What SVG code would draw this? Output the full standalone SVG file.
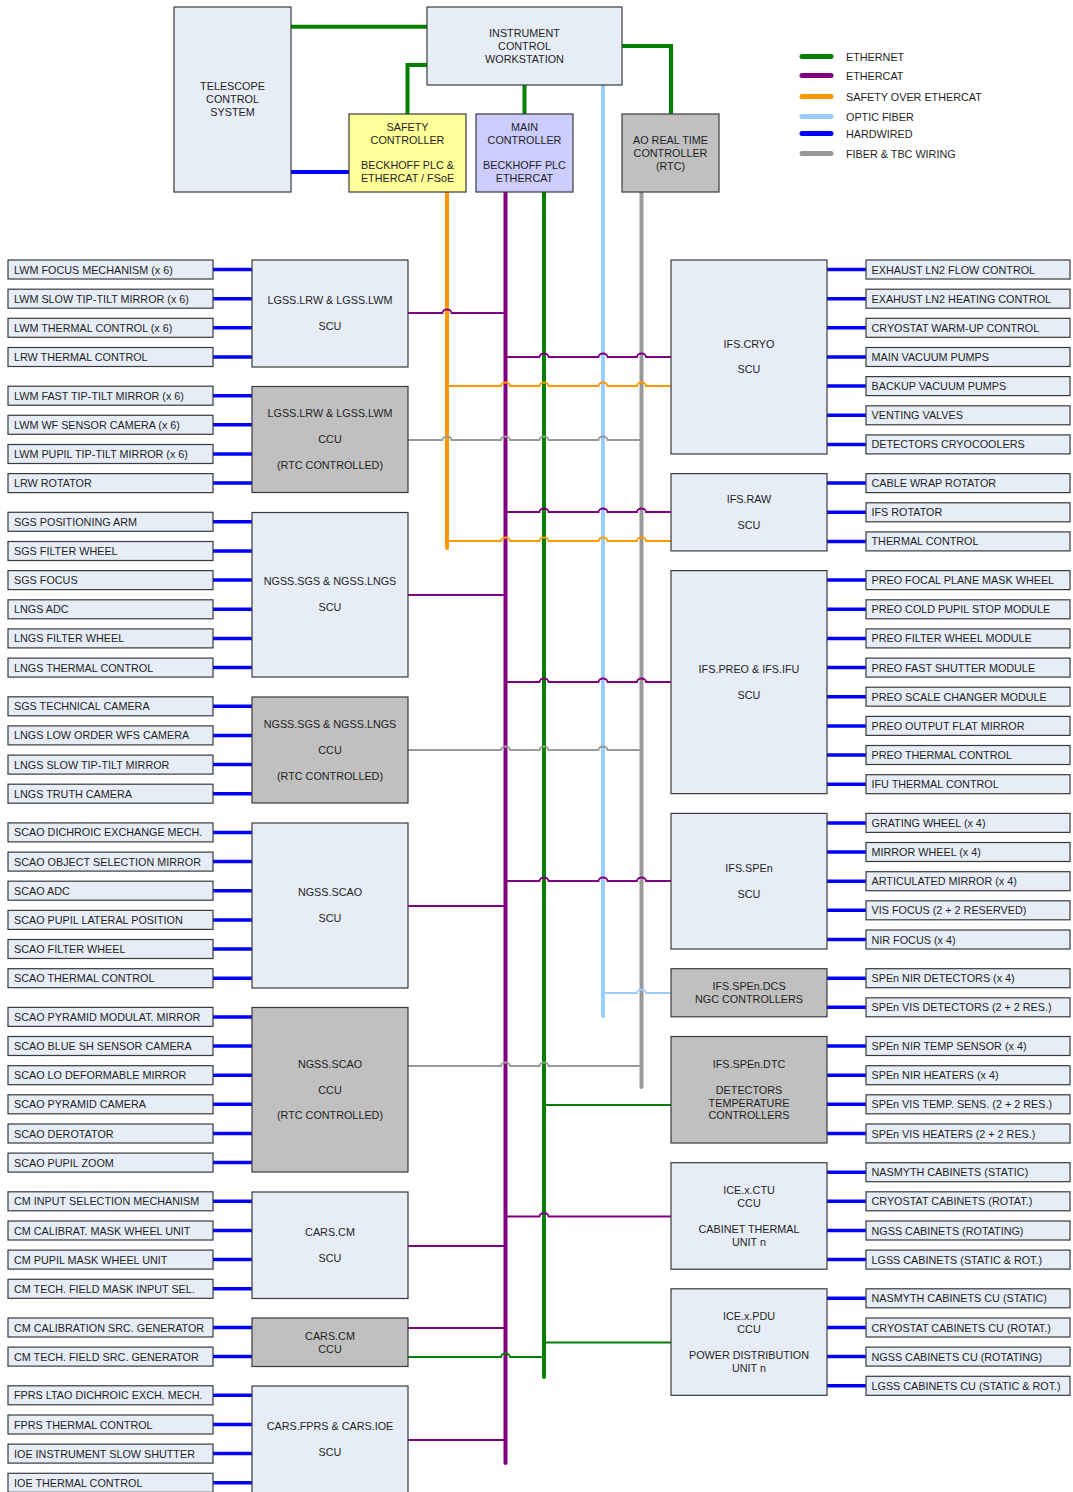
<svg xmlns="http://www.w3.org/2000/svg" width="1073" height="1492" viewBox="0 0 1073 1492">
<defs>
<style>
.box{fill:#E6EDF7;stroke:#3a3a3a;stroke-width:1.2}
.ccu{fill:#C0C0C0;stroke:#3a3a3a;stroke-width:1.2}
.saf{fill:#FFFF99;stroke:#3a3a3a;stroke-width:1.2}
.main{fill:#CCCCFF;stroke:#3a3a3a;stroke-width:1.2}
text{font-family:"Liberation Sans",Arial,sans-serif;font-size:10.8px;fill:#1e1e1e}
.c{text-anchor:middle}
.l{text-anchor:start}
.bus{fill:none;stroke-width:4;stroke-linecap:round}
.top{fill:none;stroke-width:4}
.cn{fill:none;stroke-width:1.8}
.hw{fill:none;stroke:#0000FF;stroke-width:3.5}
.leg{stroke-width:5;stroke-linecap:round}
.eth{stroke:#008000}.ecat{stroke:#800080}.safe{stroke:#FF9900}.opt{stroke:#99CCFF}.hwc{stroke:#0000FF}.tbc{stroke:#999999}
</style>
</defs>
<rect width="1073" height="1492" fill="#FFFFFF"/>

<g id="legend">
<line class="leg eth" x1="802" y1="56.5" x2="831" y2="56.5"/><text class="l" x="846" y="60.5">ETHERNET</text>
<line class="leg ecat" x1="802" y1="75.5" x2="831" y2="75.5"/><text class="l" x="846" y="79.5">ETHERCAT</text>
<line class="leg safe" x1="802" y1="96.5" x2="831" y2="96.5"/><text class="l" x="846" y="100.5">SAFETY OVER ETHERCAT</text>
<line class="leg opt" x1="802" y1="116.5" x2="831" y2="116.5"/><text class="l" x="846" y="120.5">OPTIC FIBER</text>
<line class="leg hwc" x1="802" y1="133.5" x2="831" y2="133.5"/><text class="l" x="846" y="137.5">HARDWIRED</text>
<line class="leg tbc" x1="802" y1="153.5" x2="831" y2="153.5"/><text class="l" x="846" y="157.5">FIBER &amp; TBC WIRING</text>
</g>

<g id="connectors">
<path class="top eth" d="M291 26.7 L427 26.7"/>
<path class="top eth" d="M427 65 L407.5 65 L407.5 114"/>
<path class="top eth" d="M524.5 85 L524.5 114"/>
<path class="top eth" d="M622 46 L671 46 L671 114"/>
<path class="top hwc" d="M291 172 L349 172"/>
<path class="bus safe" d="M447 192 L447 548"/>
<path class="bus ecat" d="M505.5 192 L505.5 1463"/>
<path class="bus eth" d="M544 192 L544 1377"/>
<path class="bus opt" d="M603 85 L603 1016"/>
<path class="bus tbc" d="M641.5 192 L641.5 1087"/>
<path class="cn ecat" d="M408 313 L442.5 313 A4.5 3.5 0 0 1 451.5 313 L505.5 313"/>
<path class="cn tbc" d="M408 440 L442.5 440 A4.5 3.5 0 0 1 451.5 440 L501 440 A4.5 3.5 0 0 1 510 440 L539.5 440 A4.5 3.5 0 0 1 548.5 440 L598.5 440 A4.5 3.5 0 0 1 607.5 440 L641.5 440"/>
<path class="cn ecat" d="M408 595 L505.5 595"/>
<path class="cn tbc" d="M408 750 L501 750 A4.5 3.5 0 0 1 510 750 L539.5 750 A4.5 3.5 0 0 1 548.5 750 L598.5 750 A4.5 3.5 0 0 1 607.5 750 L641.5 750"/>
<path class="cn ecat" d="M408 906 L505.5 906"/>
<path class="cn tbc" d="M408 1066 L501 1066 A4.5 3.5 0 0 1 510 1066 L539.5 1066 A4.5 3.5 0 0 1 548.5 1066 L641.5 1066"/>
<path class="cn ecat" d="M408 1246 L505.5 1246"/>
<path class="cn ecat" d="M408 1328 L505.5 1328"/>
<path class="cn eth" d="M408 1357 L501 1357 A4.5 3.5 0 0 1 510 1357 L544 1357"/>
<path class="cn ecat" d="M408 1440 L505.5 1440"/>
<path class="cn ecat" d="M505.5 357 L539.5 357 A4.5 3.5 0 0 1 548.5 357 L598.5 357 A4.5 3.5 0 0 1 607.5 357 L637 357 A4.5 3.5 0 0 1 646 357 L671 357"/>
<path class="cn safe" d="M447 386 L501 386 A4.5 3.5 0 0 1 510 386 L539.5 386 A4.5 3.5 0 0 1 548.5 386 L598.5 386 A4.5 3.5 0 0 1 607.5 386 L637 386 A4.5 3.5 0 0 1 646 386 L671 386"/>
<path class="cn ecat" d="M505.5 512 L539.5 512 A4.5 3.5 0 0 1 548.5 512 L598.5 512 A4.5 3.5 0 0 1 607.5 512 L637 512 A4.5 3.5 0 0 1 646 512 L671 512"/>
<path class="cn safe" d="M447 541 L501 541 A4.5 3.5 0 0 1 510 541 L539.5 541 A4.5 3.5 0 0 1 548.5 541 L598.5 541 A4.5 3.5 0 0 1 607.5 541 L637 541 A4.5 3.5 0 0 1 646 541 L671 541"/>
<path class="cn ecat" d="M505.5 682 L539.5 682 A4.5 3.5 0 0 1 548.5 682 L598.5 682 A4.5 3.5 0 0 1 607.5 682 L637 682 A4.5 3.5 0 0 1 646 682 L671 682"/>
<path class="cn ecat" d="M505.5 881 L539.5 881 A4.5 3.5 0 0 1 548.5 881 L598.5 881 A4.5 3.5 0 0 1 607.5 881 L637 881 A4.5 3.5 0 0 1 646 881 L671 881"/>
<path class="cn opt" d="M603 993 L637 993 A4.5 3.5 0 0 1 646 993 L671 993"/>
<path class="cn eth" d="M544 1105 L671 1105"/>
<path class="cn ecat" d="M505.5 1216.5 L539.5 1216.5 A4.5 3.5 0 0 1 548.5 1216.5 L671 1216.5"/>
<path class="cn eth" d="M544 1342.5 L671 1342.5"/>
<path class="hw" d="M213 269.5H252M213 298.7H252M213 327.8H252M213 357H252M213 395.7H252M213 424.8H252M213 454H252M213 483.1H252M213 521.8H252M213 551H252M213 580.1H252M213 609.3H252M213 638.4H252M213 667.6H252M213 706.3H252M213 735.4H252M213 764.6H252M213 793.7H252M213 832.4H252M213 861.6H252M213 890.7H252M213 919.9H252M213 949H252M213 978.2H252M213 1016.9H252M213 1046H252M213 1075.2H252M213 1104.3H252M213 1133.5H252M213 1162.6H252M213 1201.3H252M213 1230.5H252M213 1259.6H252M213 1288.8H252M213 1327.5H252M213 1356.6H252M213 1395.3H252M213 1424.5H252M213 1453.6H252M213 1482.8H252"/>
<path class="hw" d="M827 269.5H866M827 298.7H866M827 327.8H866M827 357H866M827 386.1H866M827 415.3H866M827 444.4H866M827 483.1H866M827 512.3H866M827 541.4H866M827 580.1H866M827 609.3H866M827 638.4H866M827 667.6H866M827 696.7H866M827 725.9H866M827 755H866M827 784.2H866M827 822.9H866M827 852H866M827 881.2H866M827 910.3H866M827 939.5H866M827 978.2H866M827 1007.3H866M827 1046H866M827 1075.2H866M827 1104.3H866M827 1133.5H866M827 1172.2H866M827 1201.3H866M827 1230.5H866M827 1259.6H866M827 1298.3H866M827 1327.5H866M827 1356.6H866M827 1385.8H866"/>
</g>

<g id="tcs"><rect class="box" x="174" y="7" width="117" height="185"/>
<text class="c" x="232.5" y="90">TELESCOPE</text><text class="c" x="232.5" y="103">CONTROL</text><text class="c" x="232.5" y="116">SYSTEM</text></g>
<g id="icw"><rect class="box" x="427" y="7" width="195" height="78"/>
<text class="c" x="524.5" y="37">INSTRUMENT</text><text class="c" x="524.5" y="50">CONTROL</text><text class="c" x="524.5" y="63">WORKSTATION</text></g>
<g id="safety"><rect class="saf" x="349" y="114" width="117" height="78"/>
<text class="c" x="407.5" y="131">SAFETY</text><text class="c" x="407.5" y="144">CONTROLLER</text><text class="c" x="407.5" y="169">BECKHOFF PLC &amp;</text><text class="c" x="407.5" y="182">ETHERCAT / FSoE</text></g>
<g id="mainctl"><rect class="main" x="476" y="114" width="97" height="78"/>
<text class="c" x="524.5" y="131">MAIN</text><text class="c" x="524.5" y="144">CONTROLLER</text><text class="c" x="524.5" y="169">BECKHOFF PLC</text><text class="c" x="524.5" y="182">ETHERCAT</text></g>
<g id="rtc"><rect class="ccu" x="622" y="114" width="97" height="78"/>
<text class="c" x="670.5" y="144">AO REAL TIME</text><text class="c" x="670.5" y="157">CONTROLLER</text><text class="c" x="670.5" y="169.5">(RTC)</text></g>

<g id="lgss-scu"><rect class="box" x="252" y="260" width="156" height="107"/><text class="c" x="330" y="304">LGSS.LRW &amp; LGSS.LWM</text><text class="c" x="330" y="330">SCU</text></g>
<g id="lgss-ccu"><rect class="ccu" x="252" y="386.5" width="156" height="106"/><text class="c" x="330" y="417">LGSS.LRW &amp; LGSS.LWM</text><text class="c" x="330" y="443">CCU</text><text class="c" x="330" y="469">(RTC CONTROLLED)</text></g>
<g id="ngss-scu"><rect class="box" x="252" y="512.5" width="156" height="164.5"/><text class="c" x="330" y="585">NGSS.SGS &amp; NGSS.LNGS</text><text class="c" x="330" y="611">SCU</text></g>
<g id="ngss-ccu"><rect class="ccu" x="252" y="697" width="156" height="106"/><text class="c" x="330" y="728">NGSS.SGS &amp; NGSS.LNGS</text><text class="c" x="330" y="754">CCU</text><text class="c" x="330" y="780">(RTC CONTROLLED)</text></g>
<g id="scao-scu"><rect class="box" x="252" y="823" width="156" height="165"/><text class="c" x="330" y="896">NGSS.SCAO</text><text class="c" x="330" y="922">SCU</text></g>
<g id="scao-ccu"><rect class="ccu" x="252" y="1007.5" width="156" height="164.5"/><text class="c" x="330" y="1068">NGSS.SCAO</text><text class="c" x="330" y="1094">CCU</text><text class="c" x="330" y="1119">(RTC CONTROLLED)</text></g>
<g id="cm-scu"><rect class="box" x="252" y="1192" width="156" height="106.5"/><text class="c" x="330" y="1236">CARS.CM</text><text class="c" x="330" y="1262">SCU</text></g>
<g id="cm-ccu"><rect class="ccu" x="252" y="1318" width="156" height="48.5"/><text class="c" x="330" y="1340">CARS.CM</text><text class="c" x="330" y="1353">CCU</text></g>
<g id="fprs-scu"><rect class="box" x="252" y="1386" width="156" height="120"/><text class="c" x="330" y="1430">CARS.FPRS &amp; CARS.IOE</text><text class="c" x="330" y="1456">SCU</text></g>

<g id="cryo-scu"><rect class="box" x="671" y="260" width="156" height="194"/><text class="c" x="749" y="348">IFS.CRYO</text><text class="c" x="749" y="373">SCU</text></g>
<g id="raw-scu"><rect class="box" x="671" y="473.6" width="156" height="77.3"/><text class="c" x="749" y="503">IFS.RAW</text><text class="c" x="749" y="529">SCU</text></g>
<g id="preo-scu"><rect class="box" x="671" y="570.6" width="156" height="223"/><text class="c" x="749" y="673">IFS.PREO &amp; IFS.IFU</text><text class="c" x="749" y="699">SCU</text></g>
<g id="spen-scu"><rect class="box" x="671" y="813.4" width="156" height="135.6"/><text class="c" x="749" y="872">IFS.SPEn</text><text class="c" x="749" y="898">SCU</text></g>
<g id="spen-dcs"><rect class="ccu" x="671" y="968.7" width="156" height="48.1"/><text class="c" x="749" y="990">IFS.SPEn.DCS</text><text class="c" x="749" y="1003">NGC CONTROLLERS</text></g>
<g id="spen-dtc"><rect class="ccu" x="671" y="1036.5" width="156" height="106.5"/><text class="c" x="749" y="1068">IFS.SPEn.DTC</text><text class="c" x="749" y="1094">DETECTORS</text><text class="c" x="749" y="1107">TEMPERATURE</text><text class="c" x="749" y="1119">CONTROLLERS</text></g>
<g id="ctu-ccu"><rect class="box" x="671" y="1162.7" width="156" height="106.5"/><text class="c" x="749" y="1194">ICE.x.CTU</text><text class="c" x="749" y="1207">CCU</text><text class="c" x="749" y="1233">CABINET THERMAL</text><text class="c" x="749" y="1246">UNIT n</text></g>
<g id="pdu-ccu"><rect class="box" x="671" y="1288.8" width="156" height="106.5"/><text class="c" x="749" y="1320">ICE.x.PDU</text><text class="c" x="749" y="1333">CCU</text><text class="c" x="749" y="1359">POWER DISTRIBUTION</text><text class="c" x="749" y="1372">UNIT n</text></g>

<g id="L01"><rect class="box" x="8" y="260" width="205" height="19"/><text x="14" y="273.5">LWM FOCUS MECHANISM (x 6)</text></g>
<g id="L02"><rect class="box" x="8" y="289.2" width="205" height="19"/><text x="14" y="302.7">LWM SLOW TIP-TILT MIRROR (x 6)</text></g>
<g id="L03"><rect class="box" x="8" y="318.3" width="205" height="19"/><text x="14" y="331.8">LWM THERMAL CONTROL (x 6)</text></g>
<g id="L04"><rect class="box" x="8" y="347.5" width="205" height="19"/><text x="14" y="361">LRW THERMAL CONTROL</text></g>
<g id="L05"><rect class="box" x="8" y="386.2" width="205" height="19"/><text x="14" y="399.7">LWM FAST TIP-TILT MIRROR (x 6)</text></g>
<g id="L06"><rect class="box" x="8" y="415.3" width="205" height="19"/><text x="14" y="428.8">LWM WF SENSOR CAMERA (x 6)</text></g>
<g id="L07"><rect class="box" x="8" y="444.5" width="205" height="19"/><text x="14" y="458">LWM PUPIL TIP-TILT MIRROR (x 6)</text></g>
<g id="L08"><rect class="box" x="8" y="473.6" width="205" height="19"/><text x="14" y="487.1">LRW ROTATOR</text></g>
<g id="L09"><rect class="box" x="8" y="512.3" width="205" height="19"/><text x="14" y="525.8">SGS POSITIONING ARM</text></g>
<g id="L10"><rect class="box" x="8" y="541.5" width="205" height="19"/><text x="14" y="555">SGS FILTER WHEEL</text></g>
<g id="L11"><rect class="box" x="8" y="570.6" width="205" height="19"/><text x="14" y="584.1">SGS FOCUS</text></g>
<g id="L12"><rect class="box" x="8" y="599.8" width="205" height="19"/><text x="14" y="613.3">LNGS ADC</text></g>
<g id="L13"><rect class="box" x="8" y="628.9" width="205" height="19"/><text x="14" y="642.4">LNGS FILTER WHEEL</text></g>
<g id="L14"><rect class="box" x="8" y="658.1" width="205" height="19"/><text x="14" y="671.6">LNGS THERMAL CONTROL</text></g>
<g id="L15"><rect class="box" x="8" y="696.8" width="205" height="19"/><text x="14" y="710.3">SGS TECHNICAL CAMERA</text></g>
<g id="L16"><rect class="box" x="8" y="725.9" width="205" height="19"/><text x="14" y="739.4">LNGS LOW ORDER WFS CAMERA</text></g>
<g id="L17"><rect class="box" x="8" y="755.1" width="205" height="19"/><text x="14" y="768.6">LNGS SLOW TIP-TILT MIRROR</text></g>
<g id="L18"><rect class="box" x="8" y="784.2" width="205" height="19"/><text x="14" y="797.7">LNGS TRUTH CAMERA</text></g>
<g id="L19"><rect class="box" x="8" y="822.9" width="205" height="19"/><text x="14" y="836.4">SCAO DICHROIC EXCHANGE MECH.</text></g>
<g id="L20"><rect class="box" x="8" y="852.1" width="205" height="19"/><text x="14" y="865.6">SCAO OBJECT SELECTION MIRROR</text></g>
<g id="L21"><rect class="box" x="8" y="881.2" width="205" height="19"/><text x="14" y="894.7">SCAO ADC</text></g>
<g id="L22"><rect class="box" x="8" y="910.4" width="205" height="19"/><text x="14" y="923.9">SCAO PUPIL LATERAL POSITION</text></g>
<g id="L23"><rect class="box" x="8" y="939.5" width="205" height="19"/><text x="14" y="953">SCAO FILTER WHEEL</text></g>
<g id="L24"><rect class="box" x="8" y="968.7" width="205" height="19"/><text x="14" y="982.2">SCAO THERMAL CONTROL</text></g>
<g id="L25"><rect class="box" x="8" y="1007.4" width="205" height="19"/><text x="14" y="1020.9">SCAO PYRAMID MODULAT. MIRROR</text></g>
<g id="L26"><rect class="box" x="8" y="1036.5" width="205" height="19"/><text x="14" y="1050">SCAO BLUE SH SENSOR CAMERA</text></g>
<g id="L27"><rect class="box" x="8" y="1065.7" width="205" height="19"/><text x="14" y="1079.2">SCAO LO DEFORMABLE MIRROR</text></g>
<g id="L28"><rect class="box" x="8" y="1094.8" width="205" height="19"/><text x="14" y="1108.3">SCAO PYRAMID CAMERA</text></g>
<g id="L29"><rect class="box" x="8" y="1124" width="205" height="19"/><text x="14" y="1137.5">SCAO DEROTATOR</text></g>
<g id="L30"><rect class="box" x="8" y="1153.1" width="205" height="19"/><text x="14" y="1166.6">SCAO PUPIL ZOOM</text></g>
<g id="L31"><rect class="box" x="8" y="1191.8" width="205" height="19"/><text x="14" y="1205.3">CM INPUT SELECTION MECHANISM</text></g>
<g id="L32"><rect class="box" x="8" y="1221" width="205" height="19"/><text x="14" y="1234.5">CM CALIBRAT. MASK WHEEL UNIT</text></g>
<g id="L33"><rect class="box" x="8" y="1250.1" width="205" height="19"/><text x="14" y="1263.6">CM PUPIL MASK WHEEL UNIT</text></g>
<g id="L34"><rect class="box" x="8" y="1279.3" width="205" height="19"/><text x="14" y="1292.8">CM TECH. FIELD MASK INPUT SEL.</text></g>
<g id="L35"><rect class="box" x="8" y="1318" width="205" height="19"/><text x="14" y="1331.5">CM CALIBRATION SRC. GENERATOR</text></g>
<g id="L36"><rect class="box" x="8" y="1347.1" width="205" height="19"/><text x="14" y="1360.6">CM TECH. FIELD SRC. GENERATOR</text></g>
<g id="L37"><rect class="box" x="8" y="1385.8" width="205" height="19"/><text x="14" y="1399.3">FPRS LTAO DICHROIC EXCH. MECH.</text></g>
<g id="L38"><rect class="box" x="8" y="1415" width="205" height="19"/><text x="14" y="1428.5">FPRS THERMAL CONTROL</text></g>
<g id="L39"><rect class="box" x="8" y="1444.1" width="205" height="19"/><text x="14" y="1457.6">IOE INSTRUMENT SLOW SHUTTER</text></g>
<g id="L40"><rect class="box" x="8" y="1473.3" width="205" height="19"/><text x="14" y="1486.8">IOE THERMAL CONTROL</text></g>

<g id="R01"><rect class="box" x="866" y="260" width="204" height="19"/><text x="871.5" y="273.5">EXHAUST LN2 FLOW CONTROL</text></g>
<g id="R02"><rect class="box" x="866" y="289.2" width="204" height="19"/><text x="871.5" y="302.7">EXAHUST LN2 HEATING CONTROL</text></g>
<g id="R03"><rect class="box" x="866" y="318.3" width="204" height="19"/><text x="871.5" y="331.8">CRYOSTAT WARM-UP CONTROL</text></g>
<g id="R04"><rect class="box" x="866" y="347.5" width="204" height="19"/><text x="871.5" y="361">MAIN VACUUM PUMPS</text></g>
<g id="R05"><rect class="box" x="866" y="376.6" width="204" height="19"/><text x="871.5" y="390.1">BACKUP VACUUM PUMPS</text></g>
<g id="R06"><rect class="box" x="866" y="405.8" width="204" height="19"/><text x="871.5" y="419.3">VENTING VALVES</text></g>
<g id="R07"><rect class="box" x="866" y="434.9" width="204" height="19"/><text x="871.5" y="448.4">DETECTORS CRYOCOOLERS</text></g>
<g id="R08"><rect class="box" x="866" y="473.6" width="204" height="19"/><text x="871.5" y="487.1">CABLE WRAP ROTATOR</text></g>
<g id="R09"><rect class="box" x="866" y="502.8" width="204" height="19"/><text x="871.5" y="516.3">IFS ROTATOR</text></g>
<g id="R10"><rect class="box" x="866" y="531.9" width="204" height="19"/><text x="871.5" y="545.4">THERMAL CONTROL</text></g>
<g id="R11"><rect class="box" x="866" y="570.6" width="204" height="19"/><text x="871.5" y="584.1">PREO FOCAL PLANE MASK WHEEL</text></g>
<g id="R12"><rect class="box" x="866" y="599.8" width="204" height="19"/><text x="871.5" y="613.3">PREO COLD PUPIL STOP MODULE</text></g>
<g id="R13"><rect class="box" x="866" y="628.9" width="204" height="19"/><text x="871.5" y="642.4">PREO FILTER WHEEL MODULE</text></g>
<g id="R14"><rect class="box" x="866" y="658.1" width="204" height="19"/><text x="871.5" y="671.6">PREO FAST SHUTTER MODULE</text></g>
<g id="R15"><rect class="box" x="866" y="687.2" width="204" height="19"/><text x="871.5" y="700.7">PREO SCALE CHANGER MODULE</text></g>
<g id="R16"><rect class="box" x="866" y="716.4" width="204" height="19"/><text x="871.5" y="729.9">PREO OUTPUT FLAT MIRROR</text></g>
<g id="R17"><rect class="box" x="866" y="745.5" width="204" height="19"/><text x="871.5" y="759">PREO THERMAL CONTROL</text></g>
<g id="R18"><rect class="box" x="866" y="774.7" width="204" height="19"/><text x="871.5" y="788.2">IFU THERMAL CONTROL</text></g>
<g id="R19"><rect class="box" x="866" y="813.4" width="204" height="19"/><text x="871.5" y="826.9">GRATING WHEEL (x 4)</text></g>
<g id="R20"><rect class="box" x="866" y="842.5" width="204" height="19"/><text x="871.5" y="856">MIRROR WHEEL (x 4)</text></g>
<g id="R21"><rect class="box" x="866" y="871.7" width="204" height="19"/><text x="871.5" y="885.2">ARTICULATED MIRROR (x 4)</text></g>
<g id="R22"><rect class="box" x="866" y="900.8" width="204" height="19"/><text x="871.5" y="914.3">VIS FOCUS (2 + 2 RESERVED)</text></g>
<g id="R23"><rect class="box" x="866" y="930" width="204" height="19"/><text x="871.5" y="943.5">NIR FOCUS (x 4)</text></g>
<g id="R24"><rect class="box" x="866" y="968.7" width="204" height="19"/><text x="871.5" y="982.2">SPEn NIR DETECTORS (x 4)</text></g>
<g id="R25"><rect class="box" x="866" y="997.8" width="204" height="19"/><text x="871.5" y="1011.3">SPEn VIS DETECTORS (2 + 2 RES.)</text></g>
<g id="R26"><rect class="box" x="866" y="1036.5" width="204" height="19"/><text x="871.5" y="1050">SPEn NIR TEMP SENSOR (x 4)</text></g>
<g id="R27"><rect class="box" x="866" y="1065.7" width="204" height="19"/><text x="871.5" y="1079.2">SPEn NIR HEATERS (x 4)</text></g>
<g id="R28"><rect class="box" x="866" y="1094.8" width="204" height="19"/><text x="871.5" y="1108.3">SPEn VIS TEMP. SENS. (2 + 2 RES.)</text></g>
<g id="R29"><rect class="box" x="866" y="1124" width="204" height="19"/><text x="871.5" y="1137.5">SPEn VIS HEATERS (2 + 2 RES.)</text></g>
<g id="R30"><rect class="box" x="866" y="1162.7" width="204" height="19"/><text x="871.5" y="1176.2">NASMYTH CABINETS (STATIC)</text></g>
<g id="R31"><rect class="box" x="866" y="1191.8" width="204" height="19"/><text x="871.5" y="1205.3">CRYOSTAT CABINETS (ROTAT.)</text></g>
<g id="R32"><rect class="box" x="866" y="1221" width="204" height="19"/><text x="871.5" y="1234.5">NGSS CABINETS (ROTATING)</text></g>
<g id="R33"><rect class="box" x="866" y="1250.1" width="204" height="19"/><text x="871.5" y="1263.6">LGSS CABINETS (STATIC &amp; ROT.)</text></g>
<g id="R34"><rect class="box" x="866" y="1288.8" width="204" height="19"/><text x="871.5" y="1302.3">NASMYTH CABINETS CU (STATIC)</text></g>
<g id="R35"><rect class="box" x="866" y="1318" width="204" height="19"/><text x="871.5" y="1331.5">CRYOSTAT CABINETS CU (ROTAT.)</text></g>
<g id="R36"><rect class="box" x="866" y="1347.1" width="204" height="19"/><text x="871.5" y="1360.6">NGSS CABINETS CU (ROTATING)</text></g>
<g id="R37"><rect class="box" x="866" y="1376.3" width="204" height="19"/><text x="871.5" y="1389.8">LGSS CABINETS CU (STATIC &amp; ROT.)</text></g>
</svg>
